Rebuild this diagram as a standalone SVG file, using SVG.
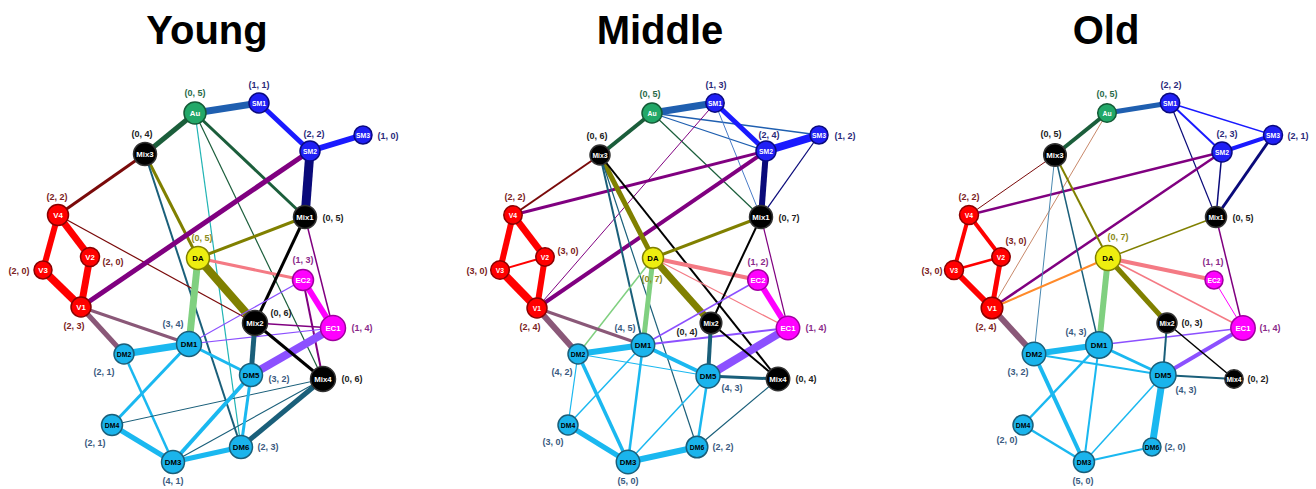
<svg xmlns="http://www.w3.org/2000/svg" width="1316" height="489" viewBox="0 0 1316 489">
<style>
text{font-family:"Liberation Sans",Arial,sans-serif;font-weight:bold;text-anchor:middle}
.title{font-size:40px;fill:#000}
.e line{fill:none}
.red{stroke:#ff0000}.stb{stroke:#1f5fb0}.stl{stroke:#4a7cc8}.blu{stroke:#1a1aff}.nav{stroke:#0a0a7a}
.dgr{stroke:#1b5e3b}.drd{stroke:#7a0a0a}.olv{stroke:#808000}.pur{stroke:#800080}.mau{stroke:#8a5878}
.lgr{stroke:#80d080}.pnk{stroke:#f47a84}.mag{stroke:#ff00ff}.vio{stroke:#8c50ff}.blk{stroke:#000}
.dtl{stroke:#1a5f7a}.lbl{stroke:#1ab8f0}.tea{stroke:#20b4b4}.org{stroke:#ff8a2a}.tan{stroke:#c8886a}.stm{stroke:#4a88b0}
.n circle{stroke-width:1.5}
.n text.t{font-size:7.8px}
.n text.ts{font-size:6.8px}
.n text.l{font-size:9px}
.v circle{fill:#ff0000;stroke:#8b0000}.v .t,.v .ts{fill:#fff}.v .l{fill:#7a2222}
.au circle{fill:#22a868;stroke:#145a36}.au .t,.au .ts{fill:#fff}.au .l{fill:#2a6a48}
.sm circle{fill:#2020f5;stroke:#0a0a80}.sm .t,.sm .ts{fill:#fff}.sm .l{fill:#2a2a7a}
.mx circle{fill:#000;stroke:#333}.mx .t,.mx .ts{fill:#fff}.mx .l{fill:#222}
.da circle{fill:#eeee10;stroke:#808000}.da .t{fill:#000}.da .l{fill:#8a8a20}
.ec circle{fill:#ff00ff;stroke:#a000a0}.ec .t,.ec .ts{fill:#fff}.ec .l{fill:#8a2a8a}
.dm circle{fill:#1ab4ec;stroke:#1a5f7a}.dm .t,.dm .ts{fill:#000}.dm .l{fill:#3a5a80}
</style>
<text class="title" x="207" y="44">Young</text>
<text class="title" x="660" y="44">Middle</text>
<text class="title" x="1106" y="44">Old</text>

<g id="connectors" class="e">
<!-- Young -->
<line class="stb" stroke-width="7" x1="195" y1="113" x2="259" y2="103"/>
<line class="blu" stroke-width="5" x1="259" y1="103" x2="310" y2="151"/>
<line class="blu" stroke-width="6" x1="310" y1="151" x2="363" y2="135"/>
<line class="nav" stroke-width="9" x1="310" y1="151" x2="305" y2="217"/>
<line class="dgr" stroke-width="5" x1="195" y1="113" x2="145" y2="154"/>
<line class="dgr" stroke-width="3" x1="195" y1="113" x2="305" y2="217"/>
<line class="dgr" stroke-width="1.2" x1="195" y1="113" x2="323" y2="379"/>
<line class="tea" stroke-width="1.2" x1="195" y1="113" x2="241" y2="447"/>
<line class="drd" stroke-width="3" x1="145" y1="154" x2="58" y2="215"/>
<line class="olv" stroke-width="3" x1="145" y1="154" x2="198" y2="258"/>
<line class="dtl" stroke-width="2" x1="145" y1="154" x2="241" y2="447"/>
<line class="drd" stroke-width="1.2" x1="58" y1="215" x2="255" y2="323"/>
<line class="red" stroke-width="7" x1="58" y1="215" x2="90" y2="257"/>
<line class="red" stroke-width="6" x1="58" y1="215" x2="43" y2="270"/>
<line class="red" stroke-width="8" x1="43" y1="270" x2="81" y2="307"/>
<line class="red" stroke-width="7" x1="90" y1="257" x2="81" y2="307"/>
<line class="pur" stroke-width="5" x1="81" y1="307" x2="310" y2="151"/>
<line class="mau" stroke-width="5" x1="81" y1="307" x2="124" y2="354"/>
<line class="mau" stroke-width="3" x1="81" y1="307" x2="189" y2="344"/>
<line class="olv" stroke-width="3" x1="198" y1="258" x2="305" y2="217"/>
<line class="olv" stroke-width="8" x1="198" y1="258" x2="255" y2="323"/>
<line class="lgr" stroke-width="7" x1="198" y1="258" x2="189" y2="344"/>
<line class="pnk" stroke-width="3" x1="198" y1="258" x2="303" y2="280"/>
<line class="blk" stroke-width="3" x1="305" y1="217" x2="255" y2="323"/>
<line class="pur" stroke-width="1.5" x1="305" y1="217" x2="333" y2="328"/>
<line class="mag" stroke-width="6" x1="303" y1="280" x2="333" y2="328"/>
<line class="pur" stroke-width="2" x1="303" y1="280" x2="323" y2="379"/>
<line class="vio" stroke-width="1.2" x1="303" y1="280" x2="189" y2="344"/>
<line class="pur" stroke-width="1.5" x1="333" y1="328" x2="255" y2="323"/>
<line class="vio" stroke-width="1.2" x1="333" y1="328" x2="189" y2="344"/>
<line class="vio" stroke-width="8" x1="333" y1="328" x2="251" y2="375"/>
<line class="blk" stroke-width="3" x1="255" y1="323" x2="323" y2="379"/>
<line class="dtl" stroke-width="5" x1="255" y1="323" x2="251" y2="375"/>
<line class="lbl" stroke-width="7" x1="189" y1="344" x2="124" y2="354"/>
<line class="lbl" stroke-width="3" x1="189" y1="344" x2="251" y2="375"/>
<line class="lbl" stroke-width="3" x1="189" y1="344" x2="112" y2="425"/>
<line class="lbl" stroke-width="2.5" x1="124" y1="354" x2="173" y2="462"/>
<line class="lbl" stroke-width="5" x1="112" y1="425" x2="173" y2="462"/>
<line class="dtl" stroke-width="1" x1="112" y1="425" x2="323" y2="379"/>
<line class="lbl" stroke-width="4" x1="173" y1="462" x2="251" y2="375"/>
<line class="lbl" stroke-width="5" x1="173" y1="462" x2="241" y2="447"/>
<line class="dtl" stroke-width="1.2" x1="173" y1="462" x2="323" y2="379"/>
<line class="lbl" stroke-width="3" x1="251" y1="375" x2="241" y2="447"/>
<line class="dtl" stroke-width="5" x1="241" y1="447" x2="323" y2="379"/>
<!-- Middle -->
<line class="dgr" stroke-width="4" x1="652" y1="113" x2="600" y2="155"/>
<line class="stb" stroke-width="7" x1="652" y1="113" x2="715" y2="103"/>
<line class="stb" stroke-width="1.2" x1="652" y1="113" x2="766" y2="151"/>
<line class="stb" stroke-width="1.5" x1="652" y1="113" x2="819" y2="135"/>
<line class="dgr" stroke-width="1.2" x1="652" y1="113" x2="761" y2="217"/>
<line class="blu" stroke-width="5" x1="715" y1="103" x2="766" y2="151"/>
<line class="stl" stroke-width="1" x1="715" y1="103" x2="761" y2="217"/>
<line class="pur" stroke-width="1" x1="715" y1="103" x2="537" y2="308"/>
<line class="blu" stroke-width="8" x1="766" y1="151" x2="819" y2="135"/>
<line class="nav" stroke-width="6" x1="766" y1="151" x2="761" y2="217"/>
<line class="nav" stroke-width="1.2" x1="819" y1="135" x2="761" y2="217"/>
<line class="pur" stroke-width="3" x1="766" y1="151" x2="513" y2="215"/>
<line class="pur" stroke-width="4" x1="766" y1="151" x2="537" y2="308"/>
<line class="drd" stroke-width="2" x1="600" y1="155" x2="513" y2="215"/>
<line class="olv" stroke-width="5" x1="600" y1="155" x2="653" y2="258"/>
<line class="blk" stroke-width="2" x1="600" y1="155" x2="778" y2="379"/>
<line class="dtl" stroke-width="2" x1="600" y1="155" x2="643" y2="345"/>
<line class="dtl" stroke-width="1.2" x1="600" y1="155" x2="697" y2="447"/>
<line class="olv" stroke-width="3" x1="653" y1="258" x2="761" y2="217"/>
<line class="olv" stroke-width="7" x1="653" y1="258" x2="711" y2="323"/>
<line class="lgr" stroke-width="5" x1="653" y1="258" x2="643" y2="345"/>
<line class="lgr" stroke-width="1.5" x1="653" y1="258" x2="578" y2="354"/>
<line class="pnk" stroke-width="4" x1="653" y1="258" x2="758" y2="280"/>
<line class="pnk" stroke-width="1.2" x1="653" y1="258" x2="788" y2="328"/>
<line class="blk" stroke-width="2" x1="761" y1="217" x2="711" y2="323"/>
<line class="pur" stroke-width="1.2" x1="761" y1="217" x2="788" y2="328"/>
<line class="mag" stroke-width="6" x1="758" y1="280" x2="788" y2="328"/>
<line class="vio" stroke-width="1.5" x1="758" y1="280" x2="643" y2="345"/>
<line class="vio" stroke-width="2" x1="788" y1="328" x2="643" y2="345"/>
<line class="vio" stroke-width="8" x1="788" y1="328" x2="708" y2="376"/>
<line class="dtl" stroke-width="4" x1="711" y1="323" x2="708" y2="376"/>
<line class="blk" stroke-width="2" x1="711" y1="323" x2="778" y2="379"/>
<line class="lbl" stroke-width="6" x1="643" y1="345" x2="578" y2="354"/>
<line class="lbl" stroke-width="1.5" x1="643" y1="345" x2="568" y2="425"/>
<line class="lbl" stroke-width="2.5" x1="643" y1="345" x2="628" y2="462"/>
<line class="lbl" stroke-width="4" x1="643" y1="345" x2="708" y2="376"/>
<line class="lbl" stroke-width="1.2" x1="578" y1="354" x2="708" y2="376"/>
<line class="lbl" stroke-width="1.2" x1="578" y1="354" x2="568" y2="425"/>
<line class="lbl" stroke-width="3.5" x1="578" y1="354" x2="628" y2="462"/>
<line class="lbl" stroke-width="5" x1="568" y1="425" x2="628" y2="462"/>
<line class="lbl" stroke-width="6" x1="628" y1="462" x2="697" y2="447"/>
<line class="lbl" stroke-width="1.5" x1="628" y1="462" x2="708" y2="376"/>
<line class="lbl" stroke-width="2.5" x1="708" y1="376" x2="697" y2="447"/>
<line class="dtl" stroke-width="3" x1="708" y1="376" x2="778" y2="379"/>
<line class="dtl" stroke-width="1.2" x1="697" y1="447" x2="778" y2="379"/>
<line class="mau" stroke-width="6" x1="537" y1="308" x2="578" y2="354"/>
<line class="mau" stroke-width="3" x1="537" y1="308" x2="643" y2="345"/>
<line class="red" stroke-width="7" x1="513" y1="215" x2="545" y2="257"/>
<line class="red" stroke-width="6" x1="513" y1="215" x2="500" y2="270"/>
<line class="red" stroke-width="2" x1="545" y1="257" x2="500" y2="270"/>
<line class="red" stroke-width="8" x1="500" y1="270" x2="537" y2="308"/>
<line class="red" stroke-width="6" x1="545" y1="257" x2="537" y2="308"/>
<!-- Old -->
<line class="stb" stroke-width="5" x1="1107" y1="113" x2="1170" y2="103"/>
<line class="dgr" stroke-width="4" x1="1107" y1="113" x2="1055" y2="155"/>
<line class="tan" stroke-width="1" x1="1107" y1="113" x2="992" y2="308"/>
<line class="blu" stroke-width="2" x1="1170" y1="103" x2="1222" y2="152"/>
<line class="blu" stroke-width="1.5" x1="1170" y1="103" x2="1273" y2="135"/>
<line class="nav" stroke-width="1.2" x1="1170" y1="103" x2="1216" y2="217"/>
<line class="blu" stroke-width="4" x1="1222" y1="152" x2="1273" y2="135"/>
<line class="nav" stroke-width="1.5" x1="1222" y1="152" x2="1216" y2="217"/>
<line class="nav" stroke-width="3" x1="1273" y1="135" x2="1216" y2="217"/>
<line class="pur" stroke-width="2.5" x1="1222" y1="152" x2="969" y2="215"/>
<line class="pur" stroke-width="2.5" x1="1222" y1="152" x2="992" y2="308"/>
<line class="drd" stroke-width="1" x1="1055" y1="155" x2="969" y2="215"/>
<line class="olv" stroke-width="2" x1="1055" y1="155" x2="1108" y2="258"/>
<line class="stm" stroke-width="1" x1="1055" y1="155" x2="1034" y2="354"/>
<line class="dtl" stroke-width="1.5" x1="1055" y1="155" x2="1099" y2="345"/>
<line class="olv" stroke-width="1.5" x1="1108" y1="258" x2="1216" y2="217"/>
<line class="olv" stroke-width="5" x1="1108" y1="258" x2="1167" y2="323"/>
<line class="lgr" stroke-width="6" x1="1108" y1="258" x2="1099" y2="345"/>
<line class="pnk" stroke-width="4" x1="1108" y1="258" x2="1214" y2="280"/>
<line class="pnk" stroke-width="1.5" x1="1108" y1="258" x2="1243" y2="328"/>
<line class="org" stroke-width="2" x1="1108" y1="258" x2="992" y2="308"/>
<line class="pur" stroke-width="1.5" x1="1216" y1="217" x2="1243" y2="328"/>
<line class="mag" stroke-width="1" x1="1214" y1="280" x2="1243" y2="328"/>
<line class="vio" stroke-width="1.5" x1="1243" y1="328" x2="1099" y2="345"/>
<line class="vio" stroke-width="4" x1="1243" y1="328" x2="1163" y2="375"/>
<line class="dtl" stroke-width="2" x1="1167" y1="323" x2="1163" y2="375"/>
<line class="blk" stroke-width="1.5" x1="1167" y1="323" x2="1234" y2="379"/>
<line class="dtl" stroke-width="2" x1="1163" y1="375" x2="1234" y2="379"/>
<line class="mau" stroke-width="6" x1="992" y1="308" x2="1034" y2="354"/>
<line class="red" stroke-width="4" x1="969" y1="215" x2="1001" y2="257"/>
<line class="red" stroke-width="4" x1="969" y1="215" x2="954" y2="270"/>
<line class="red" stroke-width="2.5" x1="1001" y1="257" x2="954" y2="270"/>
<line class="red" stroke-width="6" x1="954" y1="270" x2="992" y2="308"/>
<line class="red" stroke-width="5" x1="1001" y1="257" x2="992" y2="308"/>
<line class="lbl" stroke-width="6" x1="1099" y1="345" x2="1034" y2="354"/>
<line class="lbl" stroke-width="2" x1="1099" y1="345" x2="1084" y2="462"/>
<line class="lbl" stroke-width="2.5" x1="1099" y1="345" x2="1023" y2="425"/>
<line class="lbl" stroke-width="3" x1="1099" y1="345" x2="1163" y2="375"/>
<line class="lbl" stroke-width="2" x1="1034" y1="354" x2="1163" y2="375"/>
<line class="lbl" stroke-width="4" x1="1034" y1="354" x2="1084" y2="462"/>
<line class="lbl" stroke-width="2.5" x1="1023" y1="425" x2="1084" y2="462"/>
<line class="lbl" stroke-width="1.5" x1="1084" y1="462" x2="1163" y2="375"/>
<line class="lbl" stroke-width="2" x1="1084" y1="462" x2="1152" y2="447"/>
<line class="lbl" stroke-width="7" x1="1163" y1="375" x2="1152" y2="447"/>
</g>

<!-- Young nodes -->
<g id="young-Au" class="n au"><circle cx="195" cy="113" r="11"/><text class="t" x="195" y="116">Au</text><text class="l" x="195" y="96">(0, 5)</text></g>
<g id="young-SM1" class="n sm"><circle cx="259" cy="103" r="10"/><text class="ts" x="259" y="105.5">SM1</text><text class="l" x="259" y="88">(1, 1)</text></g>
<g id="young-SM2" class="n sm"><circle cx="310" cy="151" r="10"/><text class="ts" x="310" y="153.5">SM2</text><text class="l" x="314" y="137">(2, 2)</text></g>
<g id="young-SM3" class="n sm"><circle cx="363" cy="135" r="9"/><text class="ts" x="363" y="137.5">SM3</text><text class="l" x="388" y="139">(1, 0)</text></g>
<g id="young-Mix3" class="n mx"><circle cx="145" cy="154" r="11.5"/><text class="t" x="145" y="157">Mix3</text><text class="l" x="142" y="137">(0, 4)</text></g>
<g id="young-Mix1" class="n mx"><circle cx="305" cy="217" r="11.5"/><text class="t" x="305" y="220">Mix1</text><text class="l" x="333" y="221">(0, 5)</text></g>
<g id="young-V4" class="n v"><circle cx="58" cy="215" r="10.5"/><text class="t" x="58" y="218">V4</text><text class="l" x="57" y="200">(2, 2)</text></g>
<g id="young-V2" class="n v"><circle cx="90" cy="257" r="9.5"/><text class="t" x="90" y="260">V2</text><text class="l" x="113" y="265">(2, 0)</text></g>
<g id="young-V3" class="n v"><circle cx="43" cy="270" r="9"/><text class="t" x="43" y="273">V3</text><text class="l" x="19" y="274">(2, 0)</text></g>
<g id="young-V1" class="n v"><circle cx="81" cy="307" r="10"/><text class="t" x="81" y="310">V1</text><text class="l" x="74" y="329">(2, 3)</text></g>
<g id="young-DA" class="n da"><circle cx="198" cy="258" r="11.5"/><text class="t" x="198" y="261">DA</text><text class="l" x="202" y="241">(0, 5)</text></g>
<g id="young-EC2" class="n ec"><circle cx="303" cy="280" r="10.5"/><text class="t" x="303" y="283">EC2</text><text class="l" x="303" y="263">(1, 3)</text></g>
<g id="young-EC1" class="n ec"><circle cx="333" cy="328" r="12.5"/><text class="t" x="333" y="331">EC1</text><text class="l" x="362" y="331">(1, 4)</text></g>
<g id="young-Mix2" class="n mx"><circle cx="255" cy="323" r="12.5"/><text class="t" x="255" y="326">Mix2</text><text class="l" x="281" y="316">(0, 6)</text></g>
<g id="young-DM1" class="n dm"><circle cx="189" cy="344" r="12.5"/><text class="t" x="189" y="347">DM1</text><text class="l" x="173" y="327">(3, 4)</text></g>
<g id="young-DM2" class="n dm"><circle cx="124" cy="354" r="10"/><text class="ts" x="124" y="356.5">DM2</text><text class="l" x="104" y="375">(2, 1)</text></g>
<g id="young-DM5" class="n dm"><circle cx="251" cy="375" r="11.5"/><text class="t" x="251" y="378">DM5</text><text class="l" x="279" y="382">(3, 2)</text></g>
<g id="young-Mix4" class="n mx"><circle cx="323" cy="379" r="12.5"/><text class="t" x="323" y="382">Mix4</text><text class="l" x="352" y="382">(0, 6)</text></g>
<g id="young-DM4" class="n dm"><circle cx="112" cy="425" r="10.5"/><text class="ts" x="112" y="427.5">DM4</text><text class="l" x="95" y="446">(2, 1)</text></g>
<g id="young-DM3" class="n dm"><circle cx="173" cy="462" r="11.5"/><text class="t" x="173" y="465">DM3</text><text class="l" x="173" y="484">(4, 1)</text></g>
<g id="young-DM6" class="n dm"><circle cx="241" cy="447" r="11.5"/><text class="t" x="241" y="450">DM6</text><text class="l" x="268" y="450">(2, 3)</text></g>

<!-- Middle nodes -->
<g id="middle-Au" class="n au"><circle cx="652" cy="113" r="10"/><text class="ts" x="652" y="115.5">Au</text><text class="l" x="650" y="97">(0, 5)</text></g>
<g id="middle-SM1" class="n sm"><circle cx="715" cy="103" r="9.2"/><text class="ts" x="715" y="105.5">SM1</text><text class="l" x="716" y="88">(1, 3)</text></g>
<g id="middle-SM2" class="n sm"><circle cx="766" cy="151" r="10"/><text class="ts" x="766" y="153.5">SM2</text><text class="l" x="769" y="138">(2, 4)</text></g>
<g id="middle-SM3" class="n sm"><circle cx="819" cy="135" r="9"/><text class="ts" x="819" y="137.5">SM3</text><text class="l" x="845" y="139">(1, 2)</text></g>
<g id="middle-Mix3" class="n mx"><circle cx="600" cy="155" r="10"/><text class="ts" x="600" y="157.5">Mix3</text><text class="l" x="597" y="139">(0, 6)</text></g>
<g id="middle-Mix1" class="n mx"><circle cx="761" cy="217" r="11.5"/><text class="t" x="761" y="220">Mix1</text><text class="l" x="789" y="221">(0, 7)</text></g>
<g id="middle-V4" class="n v"><circle cx="513" cy="215" r="9.2"/><text class="ts" x="513" y="217.5">V4</text><text class="l" x="515" y="200">(2, 2)</text></g>
<g id="middle-V2" class="n v"><circle cx="545" cy="257" r="9.2"/><text class="ts" x="545" y="259.5">V2</text><text class="l" x="568" y="254">(3, 0)</text></g>
<g id="middle-V3" class="n v"><circle cx="500" cy="270" r="9.3"/><text class="ts" x="500" y="272.5">V3</text><text class="l" x="477" y="274">(3, 0)</text></g>
<g id="middle-V1" class="n v"><circle cx="537" cy="308" r="10"/><text class="ts" x="537" y="310.5">V1</text><text class="l" x="530" y="330">(2, 4)</text></g>
<g id="middle-DA" class="n da"><circle cx="653" cy="258" r="10.5"/><text class="t" x="653" y="261">DA</text><text class="l" x="652" y="282">(0, 7)</text></g>
<g id="middle-EC2" class="n ec"><circle cx="758" cy="280" r="10.3"/><text class="t" x="758" y="283">EC2</text><text class="l" x="758" y="265">(1, 2)</text></g>
<g id="middle-EC1" class="n ec"><circle cx="788" cy="328" r="11.7"/><text class="t" x="788" y="331">EC1</text><text class="l" x="816" y="331">(1, 4)</text></g>
<g id="middle-Mix2" class="n mx"><circle cx="711" cy="323" r="10.8"/><text class="ts" x="711" y="325.5">Mix2</text><text class="l" x="687" y="335">(0, 4)</text></g>
<g id="middle-DM1" class="n dm"><circle cx="643" cy="345" r="11.7"/><text class="t" x="643" y="348">DM1</text><text class="l" x="625" y="331">(4, 5)</text></g>
<g id="middle-DM2" class="n dm"><circle cx="578" cy="354" r="10"/><text class="ts" x="578" y="356.5">DM2</text><text class="l" x="562" y="375">(4, 2)</text></g>
<g id="middle-DM5" class="n dm"><circle cx="708" cy="376" r="12"/><text class="t" x="708" y="379">DM5</text><text class="l" x="732" y="391">(4, 3)</text></g>
<g id="middle-Mix4" class="n mx"><circle cx="778" cy="379" r="11.7"/><text class="t" x="778" y="382">Mix4</text><text class="l" x="806" y="382">(0, 4)</text></g>
<g id="middle-DM4" class="n dm"><circle cx="568" cy="425" r="10"/><text class="ts" x="568" y="427.5">DM4</text><text class="l" x="553" y="445">(3, 0)</text></g>
<g id="middle-DM3" class="n dm"><circle cx="628" cy="462" r="11.7"/><text class="t" x="628" y="465">DM3</text><text class="l" x="628" y="484">(5, 0)</text></g>
<g id="middle-DM6" class="n dm"><circle cx="697" cy="447" r="10.8"/><text class="ts" x="697" y="449.5">DM6</text><text class="l" x="723" y="450">(2, 2)</text></g>

<!-- Old nodes -->
<g id="old-Au" class="n au"><circle cx="1107" cy="113" r="9.3"/><text class="ts" x="1107" y="115.5">Au</text><text class="l" x="1107" y="97">(0, 5)</text></g>
<g id="old-SM1" class="n sm"><circle cx="1170" cy="103" r="9.7"/><text class="ts" x="1170" y="105.5">SM1</text><text class="l" x="1171" y="88">(2, 2)</text></g>
<g id="old-SM2" class="n sm"><circle cx="1222" cy="152" r="10"/><text class="ts" x="1222" y="154.5">SM2</text><text class="l" x="1227" y="137">(2, 3)</text></g>
<g id="old-SM3" class="n sm"><circle cx="1273" cy="135" r="9.5"/><text class="ts" x="1273" y="137.5">SM3</text><text class="l" x="1298" y="139">(2, 1)</text></g>
<g id="old-Mix3" class="n mx"><circle cx="1055" cy="155" r="11.3"/><text class="t" x="1055" y="158">Mix3</text><text class="l" x="1051" y="137">(0, 5)</text></g>
<g id="old-Mix1" class="n mx"><circle cx="1216" cy="217" r="10.5"/><text class="ts" x="1216" y="219.5">Mix1</text><text class="l" x="1243" y="221">(0, 5)</text></g>
<g id="old-V4" class="n v"><circle cx="969" cy="215" r="9.5"/><text class="ts" x="969" y="217.5">V4</text><text class="l" x="969" y="200">(2, 2)</text></g>
<g id="old-V2" class="n v"><circle cx="1001" cy="257" r="9.2"/><text class="ts" x="1001" y="259.5">V2</text><text class="l" x="1016" y="244">(3, 0)</text></g>
<g id="old-V3" class="n v"><circle cx="954" cy="270" r="9.5"/><text class="ts" x="954" y="272.5">V3</text><text class="l" x="932" y="274">(3, 0)</text></g>
<g id="old-V1" class="n v"><circle cx="992" cy="308" r="10.8"/><text class="t" x="992" y="311">V1</text><text class="l" x="986" y="330">(2, 4)</text></g>
<g id="old-DA" class="n da"><circle cx="1108" cy="258" r="12.5"/><text class="t" x="1108" y="261">DA</text><text class="l" x="1118" y="240">(0, 7)</text></g>
<g id="old-EC2" class="n ec"><circle cx="1214" cy="280" r="9"/><text class="ts" x="1214" y="282.5">EC2</text><text class="l" x="1213" y="265">(1, 1)</text></g>
<g id="old-EC1" class="n ec"><circle cx="1243" cy="328" r="12.2"/><text class="t" x="1243" y="331">EC1</text><text class="l" x="1270" y="331">(1, 4)</text></g>
<g id="old-Mix2" class="n mx"><circle cx="1167" cy="323" r="10"/><text class="ts" x="1167" y="325.5">Mix2</text><text class="l" x="1192" y="326">(0, 3)</text></g>
<g id="old-DM1" class="n dm"><circle cx="1099" cy="345" r="13.3"/><text class="t" x="1099" y="348">DM1</text><text class="l" x="1076" y="335">(4, 3)</text></g>
<g id="old-DM2" class="n dm"><circle cx="1034" cy="354" r="11.7"/><text class="t" x="1034" y="357">DM2</text><text class="l" x="1018" y="375">(3, 2)</text></g>
<g id="old-DM5" class="n dm"><circle cx="1163" cy="375" r="13"/><text class="t" x="1163" y="378">DM5</text><text class="l" x="1186" y="393">(4, 3)</text></g>
<g id="old-Mix4" class="n mx"><circle cx="1234" cy="379" r="9.2"/><text class="ts" x="1234" y="381.5">Mix4</text><text class="l" x="1258" y="382">(0, 2)</text></g>
<g id="old-DM4" class="n dm"><circle cx="1023" cy="425" r="10"/><text class="ts" x="1023" y="427.5">DM4</text><text class="l" x="1007" y="443">(2, 0)</text></g>
<g id="old-DM3" class="n dm"><circle cx="1084" cy="462" r="10.5"/><text class="ts" x="1084" y="464.5">DM3</text><text class="l" x="1083" y="484">(5, 0)</text></g>
<g id="old-DM6" class="n dm"><circle cx="1152" cy="447" r="9"/><text class="ts" x="1152" y="449.5">DM6</text><text class="l" x="1175" y="450">(2, 0)</text></g>
</svg>
